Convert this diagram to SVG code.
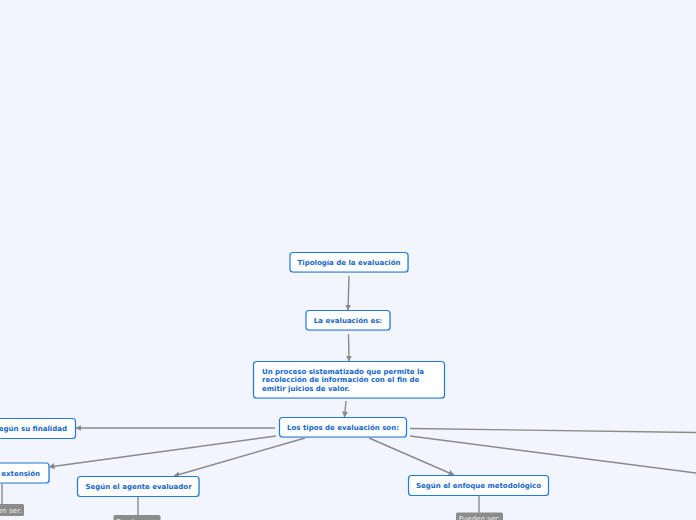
<svg xmlns="http://www.w3.org/2000/svg" width="696" height="520" viewBox="0 0 696 520">
<defs>
<style>
.n rect.b{fill:#ffffff;stroke:#1f7ae0;stroke-width:1.2}
.n rect.s{fill:#c9d3e6}
.t{font-family:"DejaVu Sans",Verdana,sans-serif;font-weight:bold;font-size:7px;fill:#1567c9}
.c{fill:none;stroke:#8a8a8a;stroke-width:1.4}
.lb rect{fill:#8c8c8c}
.lt{font-family:"DejaVu Sans",Verdana,sans-serif;font-size:7px;fill:#eeeeee}
</style>
<marker id="ah" viewBox="0 0 10 10" refX="9" refY="5" markerWidth="6" markerHeight="6" orient="auto" markerUnits="userSpaceOnUse">
<path d="M0,0 L10,5 L0,10 z" fill="#8a8a8a"/>
</marker>
</defs>
<rect width="696" height="520" fill="#f2f5fd"/>
<g id="connectors">
<line class="c" x1="349" y1="276" x2="348" y2="310" marker-end="url(#ah)"/>
<line class="c" x1="348.5" y1="334" x2="349" y2="361" marker-end="url(#ah)"/>
<line class="c" x1="346" y1="401" x2="344.5" y2="417" marker-end="url(#ah)"/>
<line class="c" x1="275" y1="428" x2="76" y2="428" marker-end="url(#ah)"/>
<line class="c" x1="276" y1="436" x2="49" y2="467" marker-end="url(#ah)"/>
<line class="c" x1="305" y1="438" x2="174" y2="476" marker-end="url(#ah)"/>
<line class="c" x1="369" y1="438" x2="454" y2="475" marker-end="url(#ah)"/>
<line class="c" x1="410" y1="428.5" x2="696" y2="432.5"/>
<line class="c" x1="410" y1="436" x2="696" y2="473"/>
<line class="c" x1="2" y1="484" x2="2" y2="504"/>
<line class="c" x1="138" y1="497" x2="138" y2="515"/>
<line class="c" x1="479" y1="496" x2="479" y2="512.5"/>
</g>
<g id="n1" class="n"><rect class="s" x="291" y="253" width="118" height="20" rx="3"/><rect class="b" x="290" y="252.5" width="118" height="19.5" rx="3"/><text class="t" x="349" y="264.8" text-anchor="middle">Tipología de la evaluación</text></g>
<g id="n2" class="n"><rect class="s" x="307" y="311" width="84" height="20" rx="3"/><rect class="b" x="306" y="310.5" width="84" height="19.5" rx="3"/><text class="t" x="348" y="322.8" text-anchor="middle">La evaluación es:</text></g>
<g id="n3" class="n"><rect class="s" x="254" y="362" width="191" height="37" rx="3"/><rect class="b" x="253.5" y="361.5" width="191" height="36.5" rx="3"/><text class="t" x="262" y="373.5">Un proceso sistematizado que permite la</text><text class="t" x="262" y="382.2">recolección de información con el fin de</text><text class="t" x="262" y="390.9">emitir juicios de valor.</text></g>
<g id="n4" class="n"><rect class="s" x="280" y="418" width="127" height="20" rx="3"/><rect class="b" x="279.5" y="417.5" width="127" height="19.5" rx="3"/><text class="t" x="343" y="430" text-anchor="middle">Los tipos de evaluación son:</text></g>
<g id="n5" class="n"><rect class="s" x="-14" y="419" width="90" height="20" rx="3"/><rect class="b" x="-15" y="418.5" width="90.5" height="20" rx="3"/><text class="t" x="67" y="431.2" text-anchor="end">Según su finalidad</text></g>
<g id="n6" class="n"><rect class="s" x="-50" y="463.5" width="100" height="20" rx="3"/><rect class="b" x="-51" y="463" width="100" height="20" rx="3"/><text class="t" x="40" y="475.7" text-anchor="end">Según su extensión</text></g>
<g id="n7" class="n"><rect class="s" x="78" y="477" width="122" height="20" rx="3"/><rect class="b" x="77.5" y="476.5" width="121.5" height="20" rx="3"/><text class="t" x="138.5" y="489.2" text-anchor="middle">Según el agente evaluador</text></g>
<g id="n8" class="n"><rect class="s" x="409" y="476" width="140" height="20" rx="3"/><rect class="b" x="408.5" y="475.5" width="140" height="20" rx="3"/><text class="t" x="478.5" y="488.2" text-anchor="middle">Según el enfoque metodológico</text></g>
<g id="l1" class="lb"><rect x="-14" y="504" width="38" height="12" rx="1.5"/><text class="lt" x="22" y="512.5" text-anchor="end">Pueden ser:</text></g>
<g id="l2" class="lb"><rect x="113.5" y="515" width="47" height="12" rx="1.5"/><text class="lt" x="137" y="523.5" text-anchor="middle">Pueden ser:</text></g>
<g id="l3" class="lb"><rect x="456" y="512.5" width="47" height="12" rx="1.5"/><text class="lt" x="479.5" y="521" text-anchor="middle">Pueden ser:</text></g>
</svg>
